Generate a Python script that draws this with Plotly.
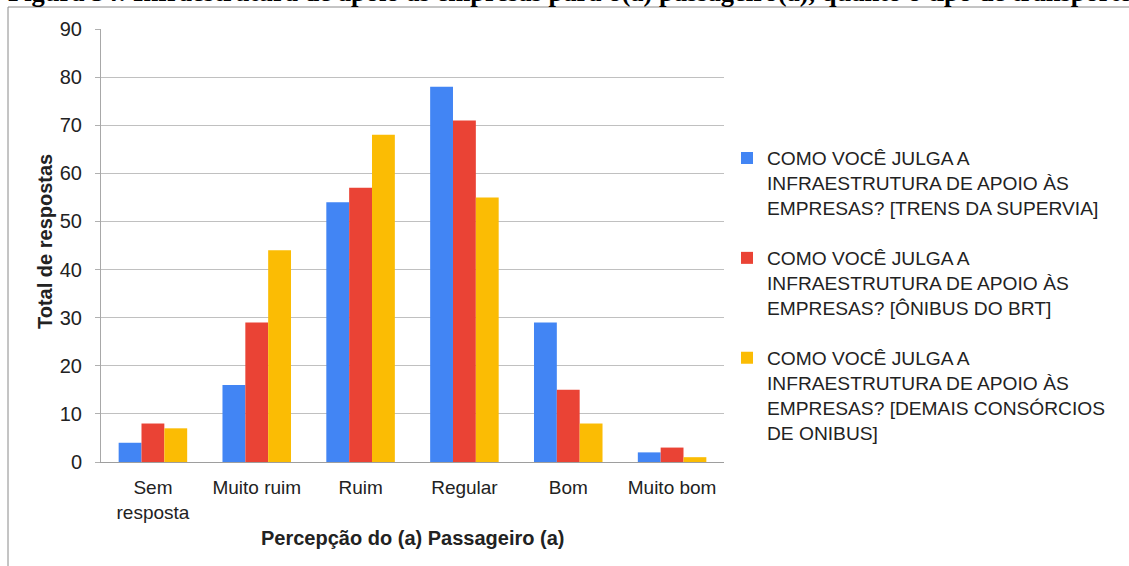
import plotly.graph_objects as go

# Survey answers: rating of business support infrastructure, by transport type
categories = ["Sem<br>resposta", "Muito ruim", "Ruim", "Regular", "Bom", "Muito bom"]
series_names = [
    "COMO VOCÊ JULGA A<br>INFRAESTRUTURA DE APOIO ÀS<br>EMPRESAS? [TRENS DA SUPERVIA]",
    "COMO VOCÊ JULGA A<br>INFRAESTRUTURA DE APOIO ÀS<br>EMPRESAS? [ÔNIBUS DO BRT]",
    "COMO VOCÊ JULGA A<br>INFRAESTRUTURA DE APOIO ÀS<br>EMPRESAS? [DEMAIS CONSÓRCIOS<br>DE ONIBUS]",
]
trens_supervia = [4, 16, 54, 78, 29, 2]
onibus_brt = [8, 29, 57, 71, 15, 3]
demais_consorcios = [7, 44, 68, 55, 8, 1]
y_ticks = [0, 10, 20, 30, 40, 50, 60, 70, 80, 90]

title_text = ("Figura 54: Infraestrutura de apoio às empresas para o(a) "
              "passageiro(a), quanto o tipo de transporte")
x_title = "Percepção do (a) Passageiro (a)"
y_title = "Total de respostas"

colors = ["#4285F4", "#EA4335", "#FBBC04"]

W, H = 1129, 566
ML, MR, MT, MB = 101, W - 724, 29, H - 462


def px_x(p):
    return (p - ML) / (W - ML - MR)


def px_y(p):
    return (H - MB - p) / (H - MT - MB)


SANS = "Liberation Sans, Arial, sans-serif"
SERIF = "Liberation Serif, Times New Roman, serif"

fig = go.Figure()
for i, (name, vals) in enumerate(zip(series_names,
                                     [trens_supervia, onibus_brt, demais_consorcios])):
    fig.add_trace(go.Bar(
        x=categories, y=vals, name=name, legendgroup=f"g{i}",
        marker=dict(color=colors[i], line=dict(width=0)),
    ))

fig.update_layout(
    width=W, height=H,
    margin=dict(l=ML, r=MR, t=MT, b=MB),
    paper_bgcolor="white", plot_bgcolor="white",
    barmode="group", bargap=0.34, bargroupgap=0,
    font=dict(family=SANS, size=19, color="#222222"),
    showlegend=True,
    legend=dict(
        x=px_x(727), y=px_y(139), xanchor="left", yanchor="top",
        font=dict(family=SANS, size=19.2, color="#222222"),
        tracegroupgap=22, valign="top", bgcolor="rgba(0,0,0,0)",
    ),
    xaxis=dict(
        showgrid=False, showline=True, linecolor="#9e9e9e", linewidth=1,
        ticks="", tickfont=dict(size=19, color="#222222"),
        ticklabelstandoff=8,
    ),
    yaxis=dict(
        range=[0, 90], tickvals=y_ticks, showgrid=True, gridcolor="#c0c0c0",
        gridwidth=1, zeroline=False, showline=True, linecolor="#a8a8a8",
        ticks="outside", ticklen=5, tickcolor="#b0b0b0",
        tickfont=dict(size=20, color="#222222"), ticklabelstandoff=9,
    ),
)

# Outer frame (left and top edges)
fig.add_shape(type="line", xref="paper", yref="paper",
              x0=px_x(8), x1=px_x(1140), y0=px_y(7), y1=px_y(7),
              line=dict(color="#8a8a8a", width=1))
fig.add_shape(type="line", xref="paper", yref="paper",
              x0=px_x(8), x1=px_x(8), y0=px_y(7), y1=px_y(580),
              line=dict(color="#8a8a8a", width=1))

# Caption above the frame
fig.add_annotation(text=f"<b>{title_text}</b>", xref="paper", yref="paper",
                   x=px_x(6), y=px_y(9), xanchor="left", yanchor="bottom",
                   showarrow=False,
                   font=dict(family=SERIF, size=26.5, color="#000000"))

# Axis titles
fig.add_annotation(text=f"<b>{y_title}</b>", xref="paper", yref="paper",
                   x=px_x(45), y=px_y(242), xanchor="center", yanchor="middle",
                   textangle=-90, showarrow=False,
                   font=dict(family=SANS, size=20, color="#222222"))
fig.add_annotation(text=f"<b>{x_title}</b>", xref="paper", yref="paper",
                   x=0.5, y=px_y(538), xanchor="center", yanchor="middle",
                   showarrow=False,
                   font=dict(family=SANS, size=20, color="#222222"))

fig.write_html("out.html")
